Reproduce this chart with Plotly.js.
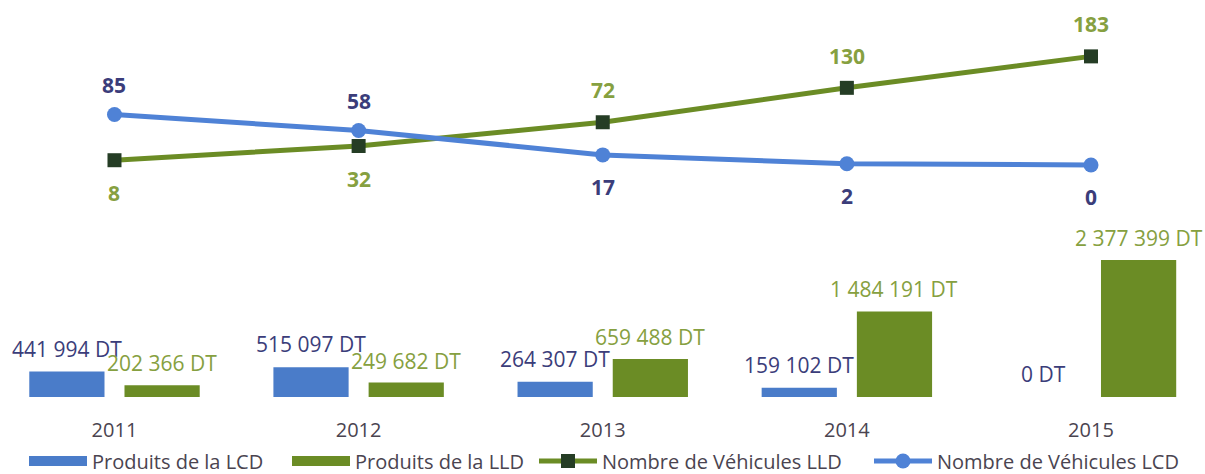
<!DOCTYPE html>
<html>
<head>
<meta charset="utf-8">
<script src="https://cdn.plot.ly/plotly-3.0.1.min.js"></script>
<style>html,body{margin:0;padding:0;background:#fff;}#chart{width:1205px;height:474px;}</style>
</head>
<body>
<div id="chart"></div>
<script>
const years = ['2011', '2012', '2013', '2014', '2015'];
const produitsLCD = [441994, 515097, 264307, 159102, 0];
const produitsLLD = [202366, 249682, 659488, 1484191, 2377399];
const vehiculesLLD = [8, 32, 72, 130, 183];
const vehiculesLCD = [85, 58, 17, 2, 0];
const labelPosLCD = ['top', 'top', 'bottom', 'bottom', 'bottom'];
const labelPosLLD = ['bottom', 'bottom', 'top', 'top', 'top'];

const FONT = 'Open Sans, Noto Sans, sans-serif';
const NAVY = '#3b3d7a';
const OLIVE = '#86a040';
const BLUE = '#4a7cc9';
const GREEN = '#6b8c25';
const LBLUE = '#4f82d6';
const TXT = '#4a4450';

const W = 1205, H = 474;
const XRANGE = [-0.469, 4.467];
const BARGAP = 0.22, BARGROUPGAP = 0.21;

const hiddenAxis = {showgrid: false, zeroline: false, showline: false, showticklabels: false, ticks: '', fixedrange: true};

const traces = [
  {
    type: 'bar', name: 'Produits de la LCD', x: years, y: produitsLCD,
    marker: {color: BLUE}, showlegend: false, hoverinfo: 'skip'
  },
  {
    type: 'bar', name: 'Produits de la LLD', x: years, y: produitsLLD,
    marker: {color: GREEN}, showlegend: false, hoverinfo: 'skip'
  },
  {
    type: 'scatter', mode: 'lines+markers', name: 'Nombre de Véhicules LLD', x: years, y: vehiculesLLD,
    yaxis: 'y2', line: {color: GREEN, width: 5}, legend: 'legend3',
    marker: {symbol: 'square', size: 14, color: '#253d25', line: {width: 0}},
    cliponaxis: false, hoverinfo: 'skip'
  },
  {
    type: 'scatter', mode: 'lines+markers', name: 'Nombre de Véhicules LCD', x: years, y: vehiculesLCD,
    yaxis: 'y2', line: {color: LBLUE, width: 5}, legend: 'legend4',
    marker: {symbol: 'circle', size: 15, color: LBLUE},
    cliponaxis: false, hoverinfo: 'skip'
  },
  // legend swatches for the bar series (wide rectangles like the reference)
  {
    type: 'scatter', mode: 'lines', name: 'Produits de la LCD', x: [null], y: [null],
    line: {color: BLUE, width: 13}, legend: 'legend', hoverinfo: 'skip'
  },
  {
    type: 'scatter', mode: 'lines', name: 'Produits de la LLD', x: [null], y: [null],
    line: {color: GREEN, width: 13}, legend: 'legend2', hoverinfo: 'skip'
  }
];

// offset of each bar from its category centre, derived from the bar layout settings
const pxPerCat = W / (XRANGE[1] - XRANGE[0]);
const slot = pxPerCat * (1 - BARGAP) / 2;
const barOffset = slot / 2;

function fmt(v) {
  return String(v).replace(/\B(?=(\d{3})+(?!\d))/g, ' ') + ' DT';
}

const annotations = [];
years.forEach((yr, i) => {
  annotations.push({
    x: i, y: vehiculesLCD[i], xref: 'x', yref: 'y2', text: '<b>' + vehiculesLCD[i] + '</b>', showarrow: false,
    yshift: labelPosLCD[i] === 'top' ? 30 : -32,
    font: {family: FONT, size: 21, color: NAVY}
  });
  annotations.push({
    x: i, y: vehiculesLLD[i], xref: 'x', yref: 'y2', text: '<b>' + vehiculesLLD[i] + '</b>', showarrow: false,
    yshift: labelPosLLD[i] === 'top' ? 32 : -33,
    font: {family: FONT, size: 21, color: OLIVE}
  });
  annotations.push({
    x: i, y: produitsLCD[i], xref: 'x', yref: 'y', text: fmt(produitsLCD[i]), showarrow: false,
    xshift: -barOffset, yshift: 23, yanchor: 'middle',
    font: {family: FONT, size: 21, color: NAVY}
  });
  annotations.push({
    x: i, y: produitsLLD[i], xref: 'x', yref: 'y', text: fmt(produitsLLD[i]), showarrow: false,
    xshift: barOffset, yshift: 22, yanchor: 'middle',
    font: {family: FONT, size: 21, color: OLIVE}
  });
});

function legendAt(px) {
  return {
    orientation: 'h', x: (px - 6) / W, xanchor: 'left', y: -0.2105, yanchor: 'bottom',
    font: {family: FONT, size: 20, color: TXT},
    itemwidth: 58, bgcolor: 'rgba(0,0,0,0)'
  };
}

const layout = {
  width: W, height: H,
  margin: {l: 0, r: 0, t: 0, b: 77, pad: 0, autoexpand: false},
  paper_bgcolor: '#ffffff', plot_bgcolor: '#ffffff',
  font: {family: FONT, size: 20, color: TXT},
  barmode: 'group', bargap: BARGAP, bargroupgap: BARGROUPGAP,
  showlegend: true,
  legend: legendAt(30),
  legend2: legendAt(293),
  legend3: legendAt(540),
  legend4: legendAt(875),
  xaxis: {
    type: 'category', categoryarray: years, range: XRANGE,
    showgrid: false, zeroline: false, showline: false, ticks: '',
    ticklabelstandoff: 19,
    tickfont: {family: FONT, size: 20, color: TXT}
  },
  yaxis: Object.assign({range: [0, 6889000]}, hiddenAxis),
  yaxis2: Object.assign({range: [-391, 278], overlaying: 'y'}, hiddenAxis),
  annotations: annotations
};

Plotly.newPlot('chart', traces, layout, {displayModeBar: false, staticPlot: true});
</script>
</body>
</html>
